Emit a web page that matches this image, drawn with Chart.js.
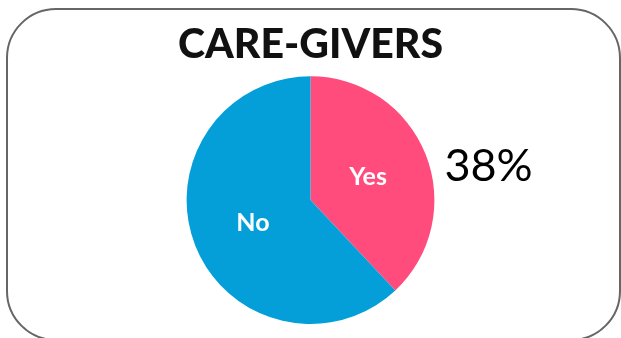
<!DOCTYPE html>
<html>
<head>
<meta charset="utf-8">
<script src="https://cdn.jsdelivr.net/npm/chart.js@4"></script>
<style>
  html, body { margin: 0; padding: 0; background: #fff; overflow: hidden; }
  #wrap { position: relative; width: 621px; height: 338px; overflow: hidden; }
  #frame {
    position: absolute; left: 6px; top: 8px; width: 615px; height: 333px;
    border: 2px solid #666; border-radius: 50px; box-sizing: border-box;
  }
  canvas { position: absolute; left: 0; top: 0; }
</style>
</head>
<body>
<div id="wrap">
  <div id="frame"></div>
  <canvas id="pie" width="621" height="338"></canvas>
</div>
<script>
const labels = ["Yes", "No"];
const shares = [38, 62];
const colors = ["#FF4C7C", "#049FD8"];

// slice names in white, plus the "Yes" share written beside the pie
const sliceText = {
  id: "sliceText",
  afterDatasetsDraw(chart) {
    const ctx = chart.ctx;
    const arcs = chart.getDatasetMeta(0).data;
    ctx.save();
    ctx.textAlign = "center";
    ctx.textBaseline = "middle";
    ctx.fillStyle = "#fff";
    ctx.font = "bold 25px Lato";
    arcs.forEach((arc, i) => {
      const mid = (arc.startAngle + arc.endAngle) / 2;
      const r = arc.outerRadius * 0.5;
      ctx.fillText(labels[i], arc.x + Math.cos(mid) * r, arc.y + Math.sin(mid) * r);
    });
    const first = arcs[0];
    ctx.fillStyle = "#000";
    ctx.textAlign = "left";
    ctx.font = "45px Lato";
    ctx.fillText(shares[0] + "%", first.x + first.outerRadius + 10, first.y - 34);
    ctx.restore();
  }
};

new Chart(document.getElementById("pie"), {
  type: "pie",
  data: {
    labels: labels,
    datasets: [{
      data: shares,
      backgroundColor: colors,
      borderWidth: 0
    }]
  },
  options: {
    responsive: false,
    animation: false,
    layout: { padding: { top: 0, bottom: 14 } },
    plugins: {
      legend: { display: false },
      tooltip: { enabled: false },
      title: {
        display: true,
        text: "CARE-GIVERS",
        color: "#111",
        font: { family: "Lato", size: 41, weight: "900", lineHeight: 1.2 },
        padding: { top: 20, bottom: 7 }
      }
    }
  },
  plugins: [sliceText]
});
</script>
</body>
</html>
